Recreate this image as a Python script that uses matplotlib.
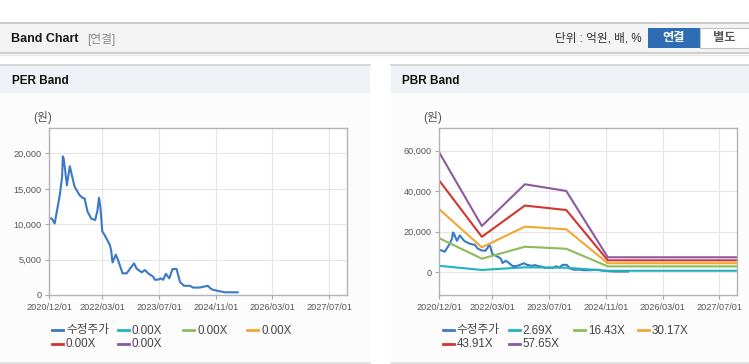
import matplotlib
matplotlib.use("Agg")
import matplotlib.pyplot as plt
import numpy as np
import pandas as pd
from matplotlib.patches import Rectangle
from matplotlib.lines import Line2D
from matplotlib.ticker import FuncFormatter

plt.rcParams['font.family'] = ['Liberation Sans', 'Noto Sans CJK KR']

# adjusted share price (수정주가)
price_dates = [
    "2020-12-01", "2020-12-25", "2021-01-16", "2021-02-08", "2021-03-01", "2021-03-21",
    "2021-03-27", "2021-04-03", "2021-04-11", "2021-05-01", "2021-05-26", "2021-06-13",
    "2021-07-06", "2021-08-18", "2021-09-16", "2021-09-30", "2021-10-25", "2021-11-26",
    "2021-12-30", "2022-01-18", "2022-02-01", "2022-02-12", "2022-03-01", "2022-03-20",
    "2022-04-12", "2022-05-06", "2022-05-16", "2022-05-28", "2022-06-25", "2022-07-15",
    "2022-08-22", "2022-09-26", "2022-11-28", "2022-12-20", "2023-01-13", "2023-02-03",
    "2023-03-02", "2023-03-30", "2023-05-12", "2023-05-26", "2023-07-01", "2023-07-15",
    "2023-08-05", "2023-08-29", "2023-09-27", "2023-10-25", "2023-11-29", "2023-12-28",
    "2024-02-01", "2024-03-22", "2024-04-19", "2024-06-15", "2024-08-22", "2024-09-25",
    "2024-11-21", "2025-01-18", "2025-05-06",
]
price = [
    10900, 10750, 10100, 12200, 14100, 16700,
    19600, 19300, 18300, 15500, 18200, 16900,
    15300, 14100, 13700, 13650, 11800, 10800,
    10600, 11900, 13750, 12500, 9000, 8500,
    7800, 7000, 6300, 4600, 5700, 4900,
    3060, 3060, 4470, 3760, 3430, 3200,
    3530, 3060, 2590, 2150, 2200, 2350,
    2150, 3000, 2350, 3670, 3670, 1850,
    1300, 1300, 1050, 1050, 1300, 800,
    560, 380, 380,
]

# PBR band lines
band_dates = ["2020-12-01", "2021-12-01", "2022-12-05", "2023-11-25", "2024-11-15", "2027-12-01"]
pbr_269 = [3200, 1150, 2450, 2250, 750, 750]
pbr_1643 = [16800, 6700, 12600, 11600, 2900, 2900]
pbr_3017 = [31100, 12300, 22500, 21200, 4450, 4450]
pbr_4391 = [45200, 17500, 32900, 30700, 5900, 5900]
pbr_5765 = [59000, 22850, 43400, 40100, 7400, 7400]

per_labels = ["수정주가", "0.00X", "0.00X", "0.00X", "0.00X", "0.00X"]
pbr_labels = ["수정주가", "2.69X", "16.43X", "30.17X", "43.91X", "57.65X"]
colors = ["#3a78c8", "#22b3bd", "#8cbb5a", "#f2a634", "#d3352e", "#8e58a0"]

x_ticks = ["2020/12/01", "2022/03/01", "2023/07/01", "2024/11/01", "2026/03/01", "2027/07/01"]

W, H = 749, 364
fig = plt.figure(figsize=(W / 100, H / 100), dpi=100)
fig.patch.set_facecolor("white")


def fx(x):
    return x / W


def fy(y):
    return 1 - y / H


def rect(x0, y0, x1, y1, fc, ec="none", lw=0, z=-10):
    fig.add_artist(Rectangle((fx(x0), fy(y1)), (x1 - x0) / W, (y1 - y0) / H,
                             transform=fig.transFigure, facecolor=fc,
                             edgecolor=ec, linewidth=lw, zorder=z))


def hline(x0, x1, y, c, lw=1.0, z=-5):
    fig.add_artist(Line2D([fx(x0), fx(x1)], [fy(y), fy(y)], transform=fig.transFigure,
                          color=c, linewidth=lw, zorder=z))


def text(x, y, s, **kw):
    fig.text(fx(x), fy(y), s, **kw)


# header bar
rect(0, 22, W, 53, "#f3f3f3")
hline(0, W, 22.5, "#c4c4c4", 1.2)
hline(0, W, 53, "#cfcfcf", 1.5)
hline(0, W, 54.5, "#e6e6e6", 1.0)
text(11, 39, "Band Chart", fontsize=9, fontweight="bold", color="#1a1a1a", va="center")
text(87, 39.5, "[연결]", fontsize=8.5, color="#8a8a8a", va="center")
text(642, 38.5, "단위 : 억원, 배, %", fontsize=8.4, color="#333333", va="center", ha="right")
rect(648, 28, 700, 47.5, "#2e6db3", z=-4)
text(674, 38, "연결", fontsize=8.8, fontweight="bold", color="white", va="center", ha="center")
rect(700, 28, 748.5, 47.5, "white", ec="#c2c2c2", lw=0.8, z=-4)
text(724, 38, "별도", fontsize=8.8, fontweight="bold", color="#555555", va="center", ha="center")

# panels
for x0, x1, title in [(0, 370, "PER Band"), (391, W, "PBR Band")]:
    rect(x0, 64, x1, 93, "#eef1f6")
    rect(x0, 93, x1, 362, "#fcfcfc")
    hline(x0, x1, 64.5, "#d3d3d3", 1.2)
    hline(x0, x1, 362.5, "#dcdcdc", 1.2)
    text(x0 + 11.5, 80.5, title, fontsize=8.5, fontweight="bold", color="#111111", va="center")

pd_price = pd.to_datetime(price_dates)
pd_band = pd.to_datetime(band_dates)
tick_pos = pd.to_datetime(x_ticks, format="%Y/%m/%d")


def style_axes(ax, yticks, ylim):
    ax.set_facecolor("white")
    ax.set_xlim(pd.Timestamp("2020-12-01"), pd.Timestamp("2027-12-01"))
    ax.set_ylim(*ylim)
    ax.set_xticks(tick_pos)
    ax.set_xticklabels(x_ticks)
    ax.set_yticks(yticks)
    ax.yaxis.set_major_formatter(FuncFormatter(lambda v, p: f"{int(v):,}"))
    ax.grid(True, color="#e6e6e6", linewidth=0.8)
    ax.set_axisbelow(True)
    for s in ax.spines.values():
        s.set_color("#b3b3b3")
        s.set_linewidth(1.0)
    ax.tick_params(length=3, color="#a8a8a8", labelsize=6.6, labelcolor="#555555")
    ax.tick_params(axis="x", pad=3)
    ax.tick_params(axis="y", pad=2.5)


ax1 = fig.add_axes([fx(49.3), fy(295), (347 - 49.3) / W, (295 - 128) / H])
ax1.plot(pd_price, price, color=colors[0], linewidth=1.5)
style_axes(ax1, [0, 5000, 10000, 15000, 20000], (0, 23600))

ax2 = fig.add_axes([fx(439.3), fy(295), (737.3 - 439.3) / W, (295 - 128.3) / H])
ax2.plot(pd_price, price, color=colors[0], linewidth=1.5)
for vals, c in zip([pbr_269, pbr_1643, pbr_3017, pbr_4391, pbr_5765], colors[1:]):
    ax2.plot(pd_band, vals, color=c, linewidth=1.5)
style_axes(ax2, [0, 20000, 40000, 60000], (-11200, 71000))

text(33, 118, "(원)", fontsize=8.5, color="#555555", va="center")
text(423, 118, "(원)", fontsize=8.5, color="#555555", va="center")

# legends
col_x = [52, 118, 183, 247]
row_y = [330, 343.5]
for off, labels in [(0, per_labels), (390.7, pbr_labels)]:
    for i, (lab, c) in enumerate(zip(labels, colors)):
        x = off + col_x[i % 4]
        y = row_y[i // 4]
        hline(x, x + 11, y, c, 2.0, z=2)
        text(x + 14, y + 0.5, lab, fontsize=8.4, color="#444444", va="center")

fig.savefig("out.png", dpi=100)
